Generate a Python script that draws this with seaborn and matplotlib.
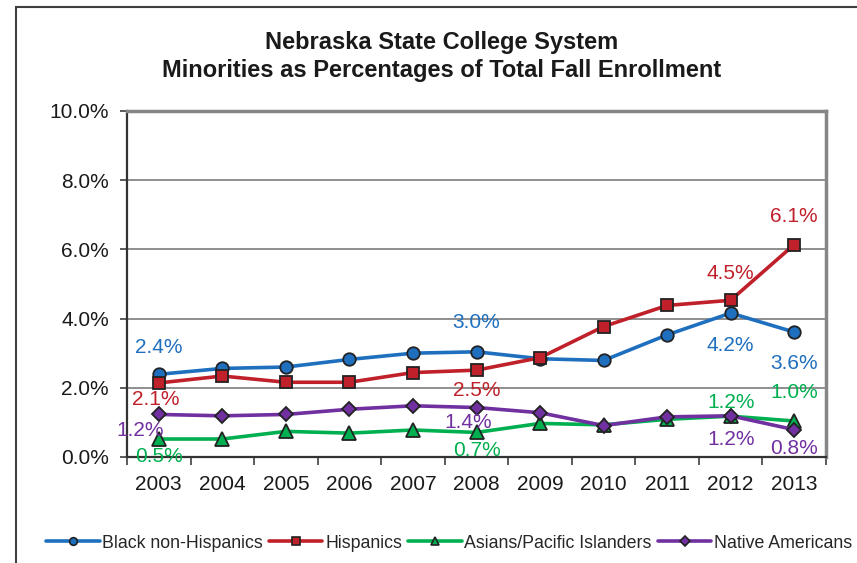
import matplotlib
matplotlib.use("Agg")
import matplotlib.pyplot as plt
import matplotlib.patches as mpatches
from matplotlib.ticker import FuncFormatter, FixedLocator
import numpy as np
import pandas as pd
import seaborn as sns

### Data (percent of total fall enrollment)
years = [2003, 2004, 2005, 2006, 2007, 2008, 2009, 2010, 2011, 2012, 2013]
black = [2.39, 2.56, 2.60, 2.82, 3.00, 3.04, 2.84, 2.79, 3.53, 4.16, 3.61]
hispanic = [2.14, 2.34, 2.16, 2.16, 2.44, 2.51, 2.87, 3.77, 4.38, 4.53, 6.14]
asian = [0.52, 0.52, 0.74, 0.69, 0.78, 0.71, 0.97, 0.93, 1.09, 1.18, 1.04]
native = [1.23, 1.19, 1.23, 1.38, 1.48, 1.43, 1.28, 0.91, 1.16, 1.19, 0.79]

series_names = ['Black non-Hispanics', 'Hispanics', 'Asians/Pacific Islanders', 'Native Americans']
series_values = [black, hispanic, asian, native]
colors = ['#1F6FBF', '#C0202A', '#00B050', '#7030A0']
markers = ['o', 's', '^', 'D']
marker_sizes = [9, 9, 9.5, 7]
labeled_years = [2003, 2008, 2012, 2013]

# label offsets in pixels (dx, dy) for each series at the labeled years
label_offsets = {
    'Black non-Hispanics': [(0, 27), (0, 29), (0, -32), (0, -31)],
    'Hispanics': [(-3, -17), (0, -20), (0, 27), (0, 28)],
    'Asians/Pacific Islanders': [(0, -17), (0, -18), (0, 14), (0, 29)],
    'Native Americans': [(-19, -16), (-8, -15), (0, -24), (0, -19)],
}

rows = []
for name, vals in zip(series_names, series_values):
    for i, (yr, v) in enumerate(zip(years, vals)):
        rows.append({'pos': i, 'year': yr, 'value': v, 'series': name})
df = pd.DataFrame(rows)

sns.set_style('white')
plt.rcParams['font.family'] = ['Liberation Sans', 'DejaVu Sans']

fig = plt.figure(figsize=(8.57, 5.63), dpi=100)
ax = fig.add_axes([127 / 857, 1 - 457 / 563, 699 / 857, 346 / 563])

# outer chart frame (extends past right and bottom edges)
fig.patches.append(mpatches.Rectangle((16 / 857, -0.1), 1.2, (563 - 7) / 563 + 0.1,
                                      transform=fig.transFigure, fill=False,
                                      edgecolor='#404040', linewidth=1.5, zorder=0))

sns.lineplot(data=df, x='pos', y='value', hue='series', style='series',
             hue_order=series_names, style_order=series_names,
             palette=dict(zip(series_names, colors)),
             markers=dict(zip(series_names, markers)),
             dashes=False, linewidth=2.6, markersize=9,
             markeredgecolor='#222222', markeredgewidth=1.3,
             ax=ax, legend=False, zorder=3)
# marker sizes differ slightly per series (diamonds are smaller)
for line, ms in zip(ax.lines, marker_sizes):
    line.set_markersize(ms)

# data labels
for name, vals, col in zip(series_names, series_values, colors):
    for yr, (dx, dy) in zip(labeled_years, label_offsets[name]):
        i = years.index(yr)
        ax.annotate(f'{vals[i]:.1f}%', (i, vals[i]), xytext=(dx, dy),
                    textcoords='offset pixels', ha='center', va='center',
                    fontsize=15, color=col, zorder=5, annotation_clip=False)

ax.set_xlim(-0.5, 10.5)
ax.set_ylim(0, 10)
ax.set_xticks(range(len(years)))
ax.set_xticklabels([str(y) for y in years])
ax.xaxis.set_minor_locator(FixedLocator(np.arange(-0.5, 11, 1)))
ax.tick_params(axis='x', which='major', length=0, pad=13, labelsize=15, labelcolor='#1a1a1a')
ax.tick_params(axis='x', which='minor', length=6, width=1.2, color='#404040', direction='out', bottom=True)
ax.set_yticks([0, 2, 4, 6, 8, 10])
ax.yaxis.set_major_formatter(FuncFormatter(lambda v, p: f'{v:.1f}%'))
ax.tick_params(axis='y', length=5, width=1.2, color='#404040', direction='out', left=True,
               labelsize=15, labelcolor='#1a1a1a', pad=8)
ax.set_xlabel('')
ax.set_ylabel('')
ax.grid(axis='y', color='#868686', linewidth=1.3)
ax.grid(axis='x', visible=False)
ax.set_axisbelow(True)

for side in ['top', 'right']:
    ax.spines[side].set_color('#868686')
    ax.spines[side].set_linewidth(2.5)
for side in ['left', 'bottom']:
    ax.spines[side].set_color('#333333')
    ax.spines[side].set_linewidth(1.6)

fig.text(0.515, 1 - 42 / 563, 'Nebraska State College System', ha='center', va='center',
         fontsize=17, fontweight='bold', color='#1a1a1a')
fig.text(0.515, 1 - 70 / 563, 'Minorities as Percentages of Total Fall Enrollment', ha='center',
         va='center', fontsize=17, fontweight='bold', color='#1a1a1a')

handles = [plt.Line2D([], [], color=c, marker=m, linewidth=2.6, markersize=5.5,
                      markeredgecolor='#222222', markeredgewidth=1.2)
           for c, m in zip(colors, markers)]
fig.legend(handles, series_names, loc='center', bbox_to_anchor=(0.524, 1 - 543 / 563), ncol=4,
           frameon=False, fontsize=12.8, handlelength=3.0, handletextpad=0.15, columnspacing=0.35)

fig.savefig('out.png', dpi=100)
